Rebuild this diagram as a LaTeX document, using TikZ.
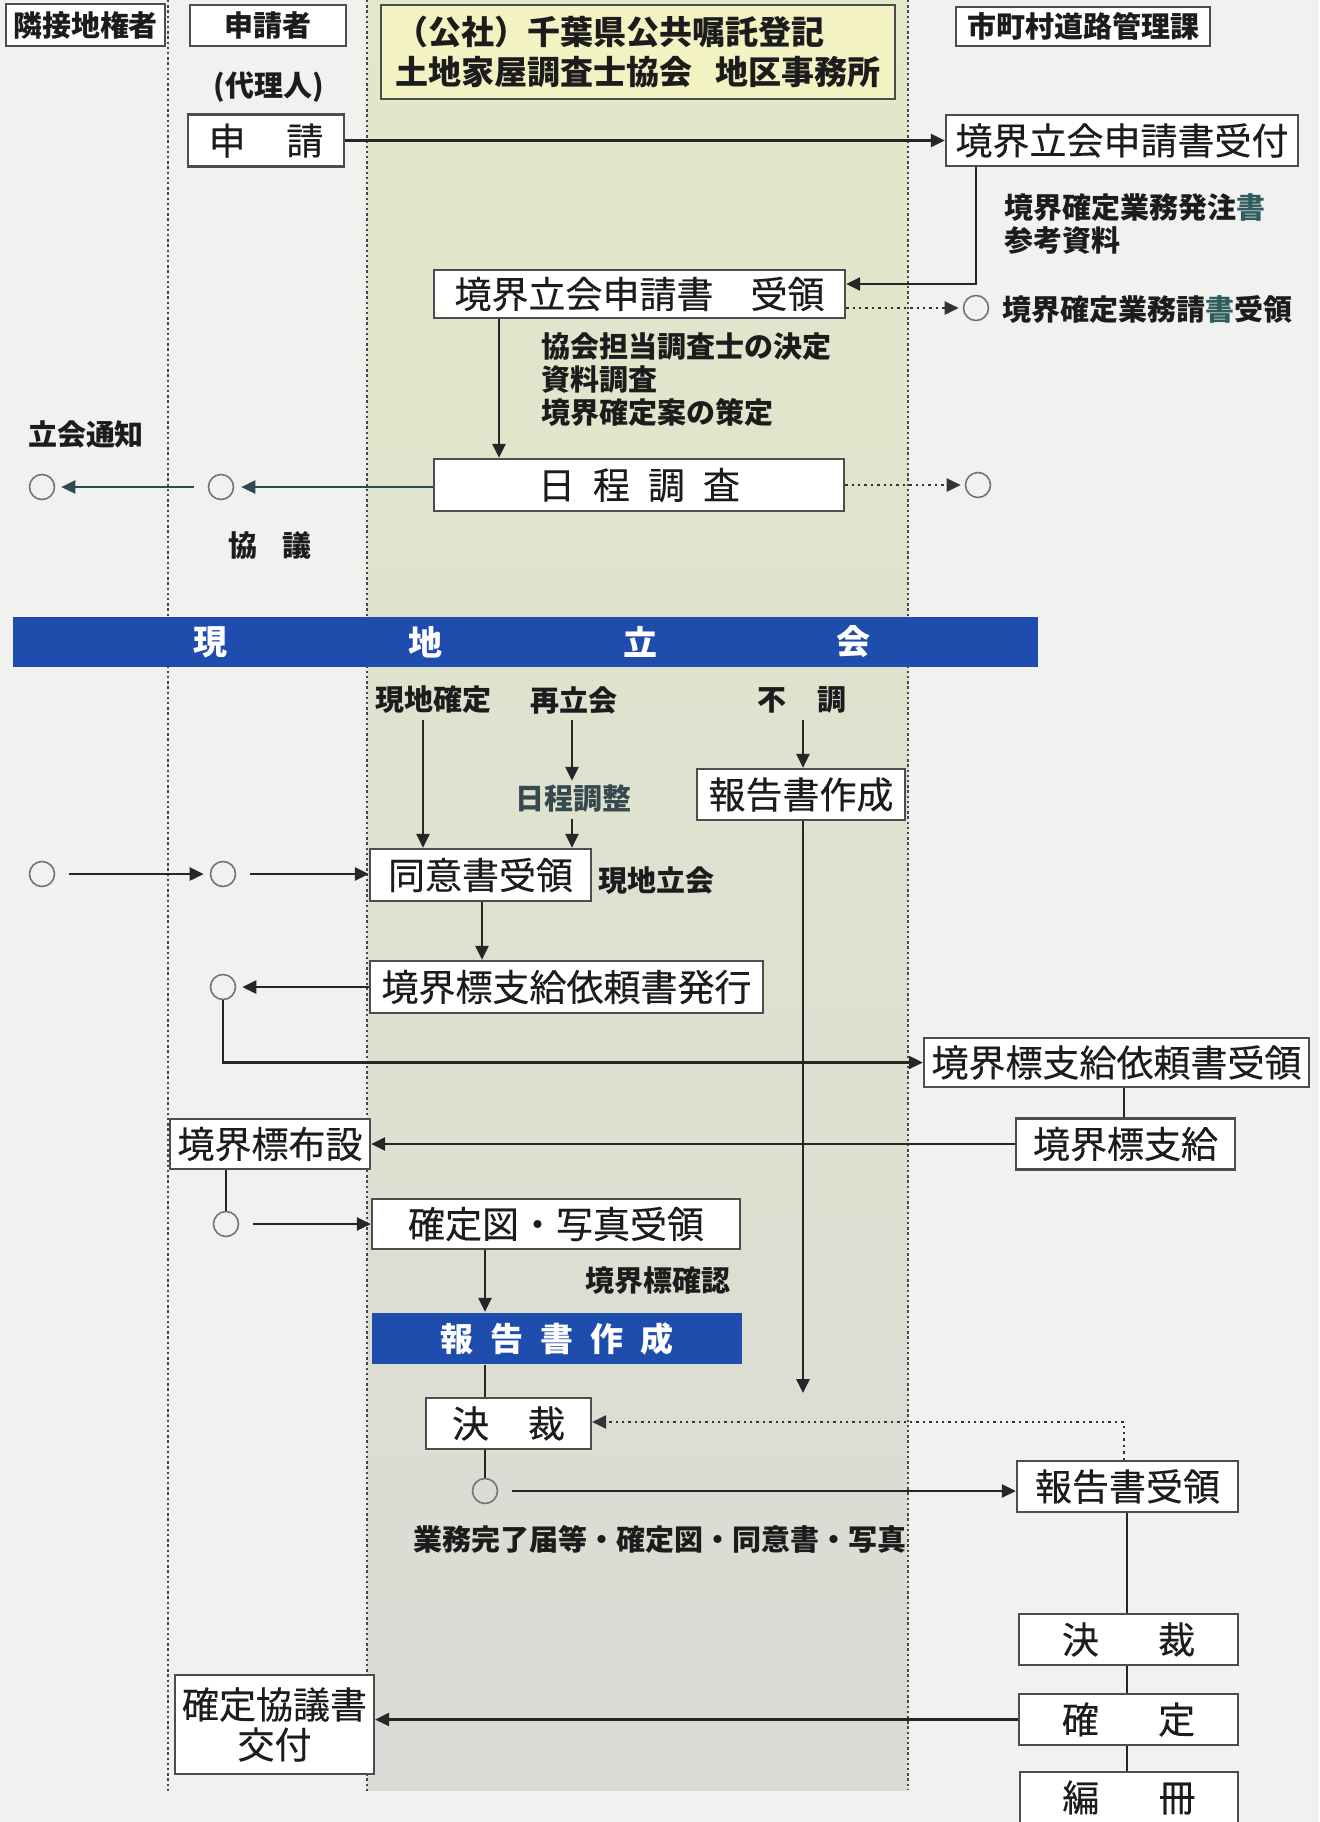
\documentclass[tikz,border=0pt]{standalone}
\usepackage{fontspec}
\setmainfont{Noto Sans CJK JP}
\newfontfamily\boxfam[FakeBold=0.3]{Noto Sans CJK JP}
\usetikzlibrary{arrows.meta}
\definecolor{pagebg}{HTML}{F1F1EF}
\definecolor{bandblue}{HTML}{1F4DAE}
\definecolor{hdryellow}{HTML}{F3F2C2}
\definecolor{bordc}{HTML}{4D4D4D}
\definecolor{inkc}{HTML}{1C1C1C}
\definecolor{tealink}{HTML}{2F5C5E}
\definecolor{slateink}{HTML}{36494F}
\definecolor{arrteal}{HTML}{2E4A4C}
\definecolor{shadetop}{HTML}{E2E8C8}
\definecolor{shademid}{HTML}{E3E5D3}
\definecolor{shadebot}{HTML}{DADAD6}
\newcommand\myboxfont{\boxfam\fontsize{18.5pt}{22pt}\selectfont}
\newcommand\mylabfont{\bfseries\fontsize{14.5pt}{16.5pt}\selectfont}
\newcommand\myhdrfont{\bfseries\fontsize{14.5pt}{17pt}\selectfont}
\begin{document}
\begin{tikzpicture}[x=0.5pt,y=-0.5pt,
  box/.style={draw=bordc,line width=1.1pt,fill=white,inner sep=1pt,text=inkc,font=\myboxfont},
  hdr/.style={draw=bordc,line width=1pt,fill=white,inner sep=1pt,text=inkc,font=\myhdrfont},
  lab/.style={inner sep=0pt,text=inkc,font=\mylabfont},
  circ/.style={circle,draw=black!55,line width=0.8pt,minimum size=12.5pt,inner sep=0pt},
  arr/.style={draw=black!85,line width=1.3pt,-{Triangle[length=7pt,width=6.5pt]}},
  tarr/.style={arr,draw=arrteal,fill=arrteal},
  ln/.style={draw=black!85,line width=1.3pt},
  dotarr/.style={draw=black!80,line width=1.3pt,dash pattern=on 1.2pt off 2pt,-{Triangle[length=7pt,width=6.5pt]}},
  lane/.style={draw=black!72,line width=1.4pt,dash pattern=on 1.2pt off 1.4pt},
  bandtxt/.style={text=white,font=\bfseries\fontsize{17pt}{17pt}\selectfont,inner sep=0pt}]
\useasboundingbox (0,0) rectangle (1319,1822);
\fill[pagebg] (0,0) rectangle (1319,1822);
\shade[top color=shadetop,middle color=shademid,bottom color=shadebot] (367,0) rectangle (908,1790);
% lanes
\draw[lane] (168,0) -- (168,1792);
\draw[lane] (367,0) -- (367,1792);
\draw[lane] (908,0) -- (908,1790);
% header boxes
\node[hdr,minimum width=79.5pt,minimum height=21pt] (rinsetsu) at (85.5,25) {隣接地権者};
\node[hdr,minimum width=78pt,minimum height=20.5pt] (shinseisha) at (268,25.5) {申請者};
\node[hdr,fill=hdryellow,minimum width=257pt,minimum height=47pt,align=left,font=\bfseries\fontsize{16.5pt}{20pt}\selectfont] (kyokaihdr) at (638,52) {（公社）千葉県公共嘱託登記\\土地家屋調査士協会\hspace{0.7em}地区事務所};
\node[hdr,minimum width=127pt,minimum height=19.5pt] (shichoson) at (1083,26.5) {市町村道路管理課};
\node[lab] (ldairi) at (269,87) {(代理人)};
% main boxes
\node[box,minimum width=78pt,minimum height=26pt] (shinsei) at (266,140.5) {申\hspace{1.1em}請};
\node[box,minimum width=176pt,minimum height=25.5pt] (uketsuke) at (1122,140.5) {境界立会申請書受付};
\node[box,minimum width=205.5pt,minimum height=24pt] (juryo) at (639.5,294) {境界立会申請書　受領};
\node[box,minimum width=205pt,minimum height=26pt] (nittei) at (639,485) {日\hspace{9pt}程\hspace{9pt}調\hspace{9pt}査};
\node[box,minimum width=104pt,minimum height=25.5pt] (houkoku1) at (801,794.5) {報告書作成};
\node[box,minimum width=110.5pt,minimum height=26pt] (doui) at (480.5,875) {同意書受領};
\node[box,minimum width=196.5pt,minimum height=26pt] (hakko) at (566.5,987) {境界標支給依頼書発行};
\node[box,minimum width=192.5pt,minimum height=24.5pt] (juryo2) at (1116.5,1062.5) {境界標支給依頼書受領};
\node[box,minimum width=109.5pt,minimum height=25.5pt] (shikyu) at (1125.5,1144) {境界標支給};
\node[box,minimum width=100pt,minimum height=25pt] (fusetsu) at (270,1144) {境界標布設};
\node[box,minimum width=184pt,minimum height=25pt] (kakuteizu) at (556,1224) {確定図・写真受領};
\node[box,draw=none,fill=bandblue,text=white,minimum width=185pt,minimum height=25.5pt,font=\bfseries\fontsize{16.5pt}{18pt}\selectfont] (blue) at (557,1338.5) {報\hspace{8.5pt}告\hspace{8.5pt}書\hspace{8.5pt}作\hspace{8.5pt}成};
\node[box,minimum width=82.5pt,minimum height=25.5pt] (kessai) at (508.5,1423.5) {決\hspace{1.05em}裁};
\node[box,minimum width=110.5pt,minimum height=25.5pt] (hjuryo) at (1127.5,1486.5) {報告書受領};
\node[box,minimum width=109.5pt,minimum height=25.5pt] (kessai2) at (1128.5,1639.5) {決\hspace{1.6em}裁};
\node[box,minimum width=109.5pt,minimum height=25.5pt] (kakutei) at (1128.5,1719.5) {確\hspace{1.6em}定};
\node[box,minimum width=109pt,minimum height=25.5pt] (hensatsu) at (1129,1797.5) {編\hspace{1.6em}冊};
\node[box,minimum width=99.5pt,minimum height=49.5pt,align=center,font=\boxfam\fontsize{18.5pt}{20pt}\selectfont] (kyogisho) at (274.5,1724.5) {確定協議書\\交付};
% band
\node[draw=none,fill=bandblue,minimum width=512.5pt,minimum height=25pt,inner sep=0pt] (band) at (525.5,642) {};
\node[bandtxt] (bgen) at (210,642) {現};
\node[bandtxt] (bchi) at (425,642) {地};
\node[bandtxt] (btachi) at (640,642) {立};
\node[bandtxt] (bkai) at (853,642) {会};
% circles
\node[circ] (tsuchic) at (42,487) {};
\node[circ] (kyogic) at (221,487) {};
\node[circ] (ukc) at (976,308) {};
\node[circ] (nittc) at (978,485) {};
\node[circ] (ca) at (42,874) {};
\node[circ] (cb) at (223,874) {};
\node[circ] (cc) at (223,987) {};
\node[circ] (cd) at (226,1224) {};
\node[circ] (ce) at (485,1491) {};
% labels
\node[lab,align=left,anchor=west] (lhacchu) at (1004,223.5) {境界確定業務発注{\color{tealink}書}\\参考資料};
\node[lab,anchor=west] (lukesho) at (1002,309) {境界確定業務請{\color{tealink}書}受領};
\node[lab,align=left,anchor=west] (lkyokai) at (541,380) {協会担当調査士の決定\\資料調査\\境界確定案の策定};
\node[lab] (ltsuchi) at (86,434) {立会通知};
\node[lab] (lkyogi) at (270,546) {協\hspace{0.85em}議};
\node[lab] (lgenchi) at (433,700) {現地確定};
\node[lab] (lsai) at (574,700) {再立会};
\node[lab] (lfucho) at (802,700) {不\hspace{1.1em}調};
\node[lab,text=slateink] (lnittei) at (573,799) {日程調整};
\node[lab,anchor=west] (lgentachi) at (598,881) {現地立会};
\node[lab,anchor=west] (lkakunin) at (585,1281) {境界標確認};
\node[lab] (lgyomu) at (660,1539) {業務完了届等・確定図・同意書・写真};
% helper coordinates
\coordinate (xa) at (499,0);
\coordinate (xb) at (423,0);
\coordinate (xc) at (572,0);
\coordinate (xd) at (482,0);
\coordinate (xe) at (485,0);
\coordinate (xf) at (803,0);
\coordinate (xg) at (1127,0);
\coordinate (xh) at (1124,0);
\coordinate (k1) at (976,284);
\coordinate (k2) at (1124,1422);
\coordinate (fend) at (803,1393);
% connectors
\draw[arr] (shinsei.east) -- (uketsuke.west);
\draw[arr] (uketsuke.south -| k1) -- (k1) -- (k1 -| juryo.east);
\draw[dotarr,shorten >=2pt] (juryo.east |- ukc) -- (ukc.west);
\draw[arr] (juryo.south -| xa) -- (nittei.north -| xa);
\draw[tarr,shorten >=3.5pt] (nittei.west |- kyogic) -- (kyogic.east);
\draw[tarr,shorten <=7pt,shorten >=3pt] (kyogic.west) -- (tsuchic.east);
\draw[dotarr,shorten >=2pt] (nittei.east) -- (nittc.west);
\draw[arr,shorten <=3pt] (lgenchi.south -| xb) -- (doui.north -| xb);
\draw[arr,shorten <=3pt,shorten >=2pt] (lsai.south -| xc) -- (lnittei.north -| xc);
\draw[arr,shorten <=3pt] (lnittei.south -| xc) -- (doui.north -| xc);
\draw[arr,shorten <=3pt] (lfucho.south -| xf) -- (houkoku1.north -| xf);
\draw[arr,shorten <=7pt,shorten >=3pt] (ca.east) -- (cb.west);
\draw[arr,shorten <=7pt] (cb.east) -- (doui.west |- cb);
\draw[arr] (doui.south -| xd) -- (hakko.north -| xd);
\draw[arr,shorten >=3pt] (hakko.west |- cc) -- (cc.east);
\draw[arr] (cc.south) |- (juryo2.west);
\draw[ln] (juryo2.south -| xh) -- (shikyu.north -| xh);
\draw[arr] (shikyu.west) -- (fusetsu.east |- shikyu.west);
\draw[ln] (fusetsu.south -| cd) -- (cd.north);
\draw[arr,shorten <=7pt] (cd.east) -- (kakuteizu.west |- cd);
\draw[arr] (kakuteizu.south -| xe) -- (blue.north -| xe);
\draw[ln] (blue.south -| xe) -- (kessai.north -| xe);
\draw[ln] (kessai.south -| ce) -- (ce.north);
\draw[arr,shorten <=7pt] (ce.east) -- (hjuryo.west |- ce);
\draw[dotarr] (hjuryo.north -| k2) -- (k2) -- (k2 -| kessai.east);
\draw[arr] (houkoku1.south -| xf) -- (fend);
\draw[ln] (hjuryo.south -| xg) -- (kessai2.north -| xg);
\draw[ln] (kessai2.south -| xg) -- (kakutei.north -| xg);
\draw[ln] (kakutei.south -| xg) -- (hensatsu.north -| xg);
\draw[arr] (kakutei.west) -- (kyogisho.east |- kakutei.west);
\end{tikzpicture}
\end{document}
